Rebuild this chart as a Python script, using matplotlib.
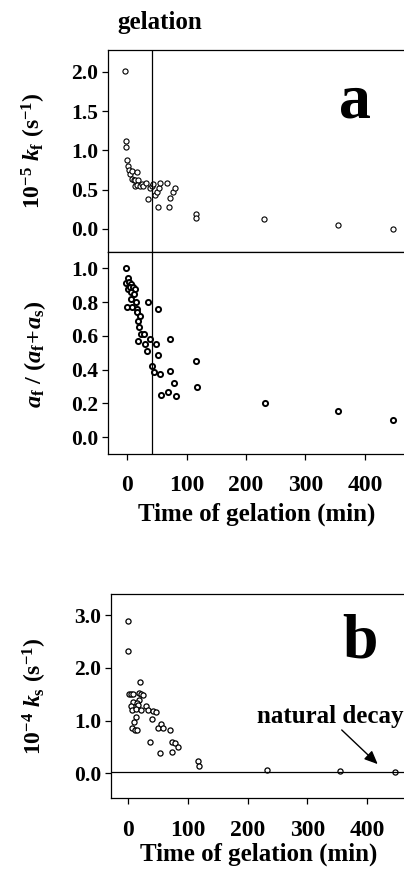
import matplotlib
matplotlib.use("Agg")
import matplotlib.pyplot as plt

plt.rcParams["font.family"] = ["Liberation Serif", "DejaVu Serif"]
plt.rcParams["font.weight"] = "bold"
plt.rcParams["mathtext.fontset"] = "custom"
plt.rcParams["mathtext.rm"] = "Liberation Serif:bold"
plt.rcParams["mathtext.it"] = "Liberation Serif:italic:bold"
plt.rcParams["mathtext.bf"] = "Liberation Serif:bold"

# ---- data: panel a (top) fast rate constant, 10^-5 k_f (s^-1) ----
t_kf = [-3, -1, -2, 0, 2, 4, 5, 8, 8, 11, 13, 13, 17, 19, 16, 22, 24.5, 27,
        32, 35, 38.5, 41.5, 44, 47.5, 50, 51.5, 53, 56, 68, 71, 72, 77, 81,
        115.5, 116, 231, 354, 446.5]
kf = [2.01, 1.12, 1.04, 0.88, 0.80, 0.75, 0.70, 0.74, 0.63, 0.62, 0.545, 0.62,
      0.72, 0.62, 0.56, 0.55, 0.57, 0.545, 0.59, 0.38, 0.52, 0.545, 0.57, 0.43,
      0.47, 0.28, 0.52, 0.58, 0.58, 0.28, 0.40, 0.47, 0.52,
      0.19, 0.145, 0.124, 0.056, 0.005]

# ---- panel a (bottom) amplitude fraction a_f/(a_f+a_s) ----
t_af = [-2, 1, -1, 3.4, 2, 6.7, 5, 9.5, 14, 6, 12, 7, 15, 0, 8.4, 16.8, 16,
        22, 18, 20, 23.5, 29, 36, 51.5, 19, 30, 33.6, 39, 49, 51.5, 72, 42.5,
        45, 55, 72.8, 78.5, 57, 69.5, 82, 116, 117, 232, 355, 447.5]
af = [1.0, 0.94, 0.91, 0.917, 0.876, 0.907, 0.89, 0.89, 0.88, 0.86, 0.85,
      0.82, 0.80, 0.77, 0.77, 0.757, 0.74, 0.72, 0.69, 0.655, 0.61, 0.61, 0.80,
      0.76, 0.57, 0.55, 0.51, 0.58, 0.55, 0.485, 0.58, 0.42, 0.386, 0.376,
      0.39, 0.32, 0.25, 0.27, 0.244, 0.45, 0.30, 0.20, 0.157, 0.102]

# ---- panel b slow rate constant, 10^-4 k_s (s^-1) ----
t_ks = [0, 0, 19.6, 0.6, 4, 8.4, 18.4, 21, 24.6, 17.9, 7.3, 14, 29.6, 4, 16,
        6, 12.9, 20.7, 33.4, 41.8, 46, 12.9, 10, 39.6, 6, 11, 15, 50, 54.6,
        57.5, 69.7, 36.8, 73.5, 79, 82.5, 72.5, 53, 116.5, 117.6, 232, 354, 446]
ks = [2.88, 2.32, 1.735, 1.50, 1.50, 1.50, 1.53, 1.51, 1.48, 1.39, 1.36, 1.33,
      1.27, 1.27, 1.29, 1.21, 1.22, 1.20, 1.21, 1.18, 1.17, 1.07, 0.98, 1.04,
      0.87, 0.83, 0.83, 0.87, 0.93, 0.87, 0.83, 0.59, 0.59, 0.58, 0.50, 0.40,
      0.38, 0.23, 0.145, 0.06, 0.05, 0.03]

gel_time = 41.5
natural_decay = 0.02

W, H = 404, 869
fig = plt.figure(figsize=(W / 100, H / 100), dpi=100)


def axes_px(left, top, right, bottom):
    return fig.add_axes([left / W, 1 - bottom / H, (right - left) / W,
                         (bottom - top) / H])


def style(ax):
    ax.spines["right"].set_visible(False)
    for s in ("left", "top", "bottom"):
        ax.spines[s].set_linewidth(0.9)
    ax.tick_params(direction="out", length=4, width=0.9, right=False, top=False)
    ax.tick_params(axis="y", labelsize=15.5, pad=3)
    ax.tick_params(axis="x", labelsize=17, pad=11)
    for lab in ax.get_xticklabels() + ax.get_yticklabels():
        lab.set_fontweight("bold")


ax1 = axes_px(108, 50, 406, 251.7)
ax2 = axes_px(108, 251.7, 406, 453.7)
ax3 = axes_px(110.7, 594, 406, 797.7)

mk = dict(ls="none", marker="o", ms=3.7, mfc="white", mec="black")

# ---------------- panel a, top ----------------
ax1.plot(t_kf, kf, mew=0.8, **mk)
ax1.axvline(gel_time, color="black", lw=0.9)
ax1.set_xlim(-32, 469)
ax1.set_ylim(-0.29, 2.28)
ax1.set_yticks([0.0, 0.5, 1.0, 1.5, 2.0])
ax1.set_yticklabels(["0.0", "0.5", "1.0", "1.5", "2.0"])
ax1.set_xticks([])
style(ax1)
ax1.set_ylabel(r"$10^{-5}\ k_\mathrm{f}\ (\mathrm{s}^{-1})$", fontsize=17)
ax1.yaxis.set_label_coords(-0.20, 0.5)
ax1.text(0.83, 0.74, "a", transform=ax1.transAxes, ha="center", va="center",
         fontsize=46, fontweight="bold")
fig.text(160 / W, 1 - 22 / H, "gelation", ha="center", va="center",
         fontsize=18, fontweight="bold")

# ---------------- panel a, bottom ----------------
ax2.plot(t_af, af, mew=1.4, **mk)
ax2.axvline(gel_time, color="black", lw=0.9)
ax2.set_xlim(-32, 469)
ax2.set_ylim(-0.097, 1.098)
ax2.set_yticks([0.0, 0.2, 0.4, 0.6, 0.8, 1.0])
ax2.set_yticklabels(["0.0", "0.2", "0.4", "0.6", "0.8", "1.0"])
ax2.set_xticks([0, 100, 200, 300, 400])
style(ax2)
ax2.set_ylabel(r"$a_\mathrm{f}\ /\ (a_\mathrm{f}\!+\!a_\mathrm{s})$",
               fontsize=17.5)
ax2.yaxis.set_label_coords(-0.20, 0.49)
ax2.set_xlabel("Time of gelation (min)", fontsize=18, fontweight="bold",
               labelpad=5)

# ---------------- panel b ----------------
ax3.plot(t_ks, ks, mew=0.9, **mk)
ax3.axhline(natural_decay, color="black", lw=0.9)
ax3.set_xlim(-29.4, 465)
ax3.set_ylim(-0.46, 3.4)
ax3.set_yticks([0.0, 1.0, 2.0, 3.0])
ax3.set_yticklabels(["0.0", "1.0", "2.0", "3.0"])
ax3.set_xticks([0, 100, 200, 300, 400])
style(ax3)
ax3.tick_params(axis="x", pad=12)
ax3.set_ylabel(r"$10^{-4}\ k_\mathrm{s}\ (\mathrm{s}^{-1})$", fontsize=17)
ax3.yaxis.set_label_coords(-0.21, 0.5)
ax3.set_xlabel("Time of gelation (min)", fontsize=18, fontweight="bold",
               labelpad=1)
ax3.text(0.845, 0.76, "b", transform=ax3.transAxes, ha="center",
         va="center", fontsize=46, fontweight="bold")
ax3.text(215, 1.07, "natural decay", ha="left", va="center", fontsize=18,
         fontweight="bold", clip_on=False)
ax3.annotate("", xy=(421, 0.14), xytext=(354, 0.86),
             arrowprops=dict(arrowstyle="-|>,head_length=0.8,head_width=0.35",
                             color="black", lw=1.0))

fig.savefig("out.png", dpi=100)
